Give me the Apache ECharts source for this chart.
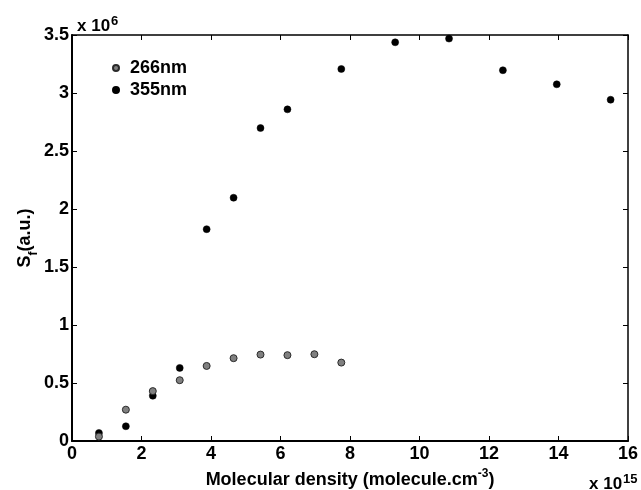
<!DOCTYPE html>
<html>
<head>
<meta charset="utf-8">
<script src="https://cdn.jsdelivr.net/npm/echarts@6/dist/echarts.min.js"></script>
<style>
  html, body { margin: 0; padding: 0; background: #fff; }
  #chart { width: 641px; height: 490px; }
</style>
</head>
<body>
<div id="chart"></div>
<script>
// Molecular density, in units of 1e15 molecule/cm^3
const density266 = [0.775, 1.55, 2.325, 3.1, 3.875, 4.65, 5.425, 6.2, 6.975, 7.75];
const density355 = [0.775, 1.55, 2.325, 3.1, 3.875, 4.65, 5.425, 6.2, 7.75, 9.3, 10.85, 12.4, 13.95, 15.5];
// Fluorescence signal S_f, in units of 1e6 (a.u.)
const signal266 = [0.038, 0.27, 0.43, 0.524, 0.647, 0.714, 0.745, 0.74, 0.748, 0.676];
const signal355 = [0.069, 0.127, 0.39, 0.63, 1.826, 2.097, 2.698, 2.859, 3.207, 3.437, 3.469, 3.196, 3.075, 2.942];
const seriesNames = ['266nm', '355nm'];
const xTicks = [0, 2, 4, 6, 8, 10, 12, 14, 16];
const yTicks = [0, 0.5, 1, 1.5, 2, 2.5, 3, 3.5];

const FONT = 'Liberation Sans, Arial, sans-serif';
const pair = (xs, ys) => xs.map((x, i) => [x, ys[i]]);

const chart = echarts.init(document.getElementById('chart'));

const baseAxis = {
  axisLine: { show: true, onZero: false, lineStyle: { color: '#000', width: 2 } },
  axisTick: { show: true, inside: true, length: 5, lineStyle: { color: '#000', width: 1 } },
  splitLine: { show: false },
  axisLabel: { color: '#000', fontFamily: FONT, fontWeight: 'bold', fontSize: 18 }
};

// bold base text with a raised exponent
function powerLabel(base, sup, size, supSize, raise) {
  return {
    text: '{b|' + base + '}{s|' + sup + '}',
    rich: {
      b: { fontFamily: FONT, fontWeight: 'bold', fontSize: size, lineHeight: 22, fill: '#000' },
      s: { fontFamily: FONT, fontWeight: 'bold', fontSize: supSize, lineHeight: raise, verticalAlign: 'top', fill: '#000', padding: [0, 0, 0, 1] }
    },
    verticalAlign: 'middle'
  };
}

chart.setOption({
  animation: false,
  backgroundColor: '#fff',
  grid: { left: 72, right: 9, top: 35, bottom: 49, containLabel: false },
  legend: {
    orient: 'vertical',
    left: 107,
    top: 54,
    itemWidth: 18,
    itemHeight: 6,
    itemGap: 4,
    icon: 'circle',
    textStyle: { color: '#000', fontFamily: FONT, fontWeight: 'bold', fontSize: 18, lineHeight: 18 },
    data: seriesNames
  },
  xAxis: [
    Object.assign({}, baseAxis, {
      type: 'value', position: 'bottom', min: xTicks[0], max: xTicks[xTicks.length - 1], interval: 2,
      axisLabel: Object.assign({}, baseAxis.axisLabel, { margin: 4 })
    }),
    Object.assign({}, baseAxis, {
      type: 'value', position: 'top', min: xTicks[0], max: xTicks[xTicks.length - 1], interval: 2,
      axisLine: { show: true, onZero: false, lineStyle: { color: '#000', width: 1.5 } },
      axisLabel: { show: false }
    })
  ],
  yAxis: [
    Object.assign({}, baseAxis, {
      type: 'value', position: 'left', min: yTicks[0], max: yTicks[yTicks.length - 1], interval: 0.5,
      axisLabel: Object.assign({}, baseAxis.axisLabel, { margin: 3, formatter: v => String(v) })
    }),
    Object.assign({}, baseAxis, {
      type: 'value', position: 'right', min: yTicks[0], max: yTicks[yTicks.length - 1], interval: 0.5,
      axisLine: { show: true, onZero: false, lineStyle: { color: '#000', width: 1.5 } },
      axisLabel: { show: false }
    })
  ],
  series: [
    {
      name: seriesNames[0], type: 'scatter', symbol: 'circle', symbolSize: 7,
      itemStyle: { color: '#808080', borderColor: '#2a2a2a', borderWidth: 1, opacity: 1 },
      data: pair(density266, signal266), z: 3
    },
    {
      name: seriesNames[1], type: 'scatter', symbol: 'circle', symbolSize: 7,
      itemStyle: { color: '#000', borderColor: '#000', borderWidth: 0.5, opacity: 1 },
      data: pair(density355, signal355), z: 2
    }
  ],
  graphic: [
    // y scale factor
    { type: 'text', x: 77, y: 26, style: powerLabel('x 10', '6', 17, 13, 8) },
    // x scale factor
    { type: 'text', x: 589, y: 484, style: powerLabel('x 10', '15', 17, 13, 8) },
    // x axis title
    {
      type: 'text', x: 350, y: 480,
      style: {
        text: '{b|Molecular density (molecule.cm}{s|-3}{b|)}',
        align: 'center', verticalAlign: 'middle',
        rich: {
          b: { fontFamily: FONT, fontWeight: 'bold', fontSize: 18, lineHeight: 24, fill: '#000' },
          s: { fontFamily: FONT, fontWeight: 'bold', fontSize: 12, lineHeight: 12, verticalAlign: 'top', fill: '#000' }
        }
      }
    },
    // y axis title
    {
      type: 'text', x: 25, y: 238, rotation: Math.PI / 2,
      style: {
        text: '{b|S}{s|f}{b|(a.u.)}',
        align: 'center', verticalAlign: 'middle',
        rich: {
          b: { fontFamily: FONT, fontWeight: 'bold', fontSize: 18, lineHeight: 30, fill: '#000' },
          s: { fontFamily: FONT, fontWeight: 'bold', fontSize: 12, lineHeight: 12, verticalAlign: 'bottom', fill: '#000' }
        }
      }
    }
  ]
});
</script>
</body>
</html>
